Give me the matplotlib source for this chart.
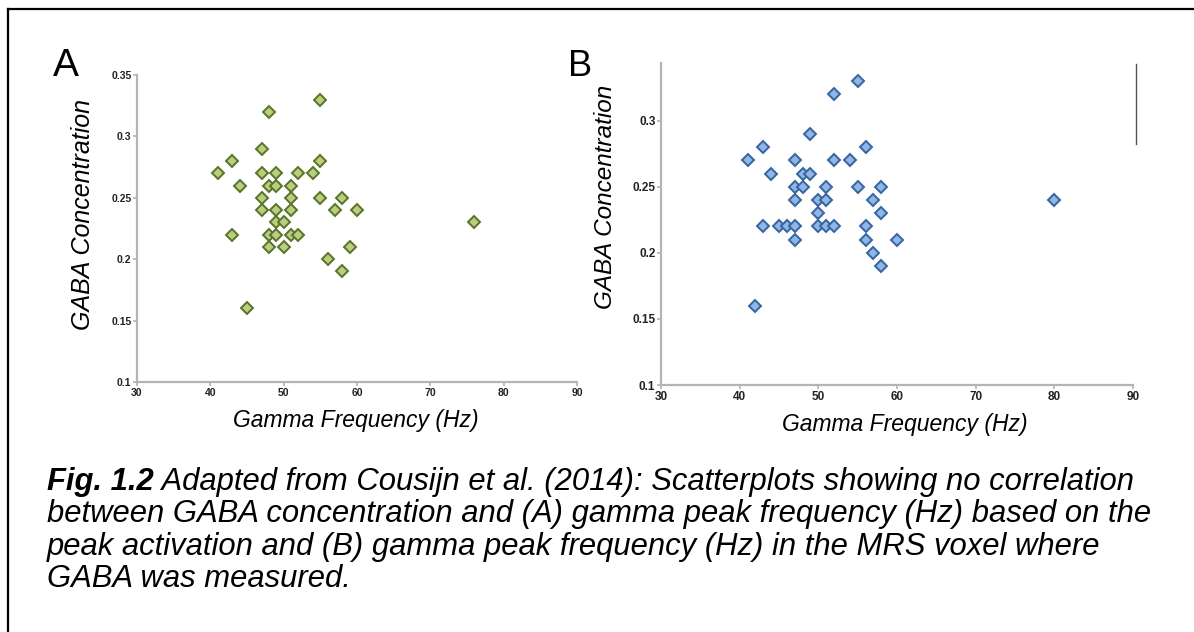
import matplotlib
matplotlib.use('Agg')
import matplotlib.pyplot as plt
from matplotlib.lines import Line2D

plt.rcParams['font.family'] = ['Liberation Sans', 'DejaVu Sans']

# Panel A: peak activation
gamma_a = [55, 48, 47, 43, 55, 41, 47, 49, 52, 54, 44, 48, 49, 51, 47, 51, 55, 58,
           47, 49, 51, 57, 60, 49, 50, 43, 48, 49, 51, 52, 48, 50, 59, 56, 58, 45, 76]
gaba_a = [0.33, 0.32, 0.29, 0.28, 0.28, 0.27, 0.27, 0.27, 0.27, 0.27, 0.26, 0.26, 0.26, 0.26,
          0.25, 0.25, 0.25, 0.25, 0.24, 0.24, 0.24, 0.24, 0.24, 0.23, 0.23, 0.22, 0.22, 0.22,
          0.22, 0.22, 0.21, 0.21, 0.21, 0.20, 0.19, 0.16, 0.23]

# Panel B: MRS voxel
gamma_b = [55, 52, 49, 43, 56, 41, 47, 52, 54, 44, 48, 49, 47, 48, 51, 55, 58, 47, 50,
           51, 57, 80, 50, 58, 43, 45, 46, 47, 50, 51, 52, 56, 47, 56, 60, 57, 58, 42]
gaba_b = [0.33, 0.32, 0.29, 0.28, 0.28, 0.27, 0.27, 0.27, 0.27, 0.26, 0.26, 0.26, 0.25,
          0.25, 0.25, 0.25, 0.25, 0.24, 0.24, 0.24, 0.24, 0.24, 0.23, 0.23, 0.22, 0.22,
          0.22, 0.22, 0.22, 0.22, 0.22, 0.22, 0.21, 0.21, 0.21, 0.20, 0.19, 0.16]

x_ticks = [30, 40, 50, 60, 70, 80, 90]
y_ticks_a = [0.1, 0.15, 0.2, 0.25, 0.3, 0.35]
y_labels_a = ['0.1', '0.15', '0.2', '0.25', '0.3', '0.35']
y_ticks_b = [0.1, 0.15, 0.2, 0.25, 0.3]
y_labels_b = ['0.1', '0.15', '0.2', '0.25', '0.3']

W, H = 1194, 632
fig = plt.figure(figsize=(W / 100, H / 100), dpi=100)
fig.patch.set_facecolor('white')


def fx(px):
    return px / W


def fy(py):
    return 1 - py / H


def estilo_ejes(ax, yticks, ylabels, ylim, tsize):
    for s in ['top', 'right']:
        ax.spines[s].set_visible(False)
    for s in ['left', 'bottom']:
        ax.spines[s].set_color('#b4b4b4')
        ax.spines[s].set_linewidth(1.6)
    ax.set_xlim(30, 90)
    ax.set_ylim(*ylim)
    ax.set_xticks(x_ticks)
    ax.set_xticklabels([str(t) for t in x_ticks])
    ax.set_yticks(yticks)
    ax.set_yticklabels(ylabels)
    ax.tick_params(direction='out', length=3, width=1.2, color='#b4b4b4',
                   labelsize=tsize, labelcolor='#222222', pad=1)
    for lab in ax.get_xticklabels() + ax.get_yticklabels():
        lab.set_fontweight('bold')


# Panel A
ax_a = fig.add_axes([fx(137), fy(382), fx(577 - 137), (382 - 75) / H])
ax_a.plot(gamma_a, gaba_a, 'D', ms=6, mfc='#b9cf80', mec='#5a722a', mew=1.4,
          linestyle='none', clip_on=False)
estilo_ejes(ax_a, y_ticks_a, y_labels_a, (0.1, 0.35), 7.5)

# Panel B
ax_b = fig.add_axes([fx(661), fy(385), fx(1133 - 661), (385 - 63) / H])
ax_b.plot(gamma_b, gaba_b, 'D', ms=6, mfc='#8fb6e4', mec='#35649f', mew=1.4,
          linestyle='none', clip_on=False)
estilo_ejes(ax_b, y_ticks_b, y_labels_b, (0.1, 0.3437), 8.5)

# Etiquetas de ejes
fig.text(fx(83), fy(215), 'GABA Concentration', rotation=90, ha='center', va='center',
         fontsize=18, style='italic')
fig.text(fx(605), fy(197), 'GABA Concentration', rotation=90, ha='center', va='center',
         fontsize=17.5, style='italic')
fig.text(fx(356), fy(421), 'Gamma Frequency (Hz)', ha='center', va='center',
         fontsize=16.5, style='italic')
fig.text(fx(905), fy(424), 'Gamma Frequency (Hz)', ha='center', va='center',
         fontsize=16.5, style='italic')

# Letras de panel
fig.text(fx(66), fy(66), 'A', ha='center', va='center', fontsize=28)
fig.text(fx(580), fy(66), 'B', ha='center', va='center', fontsize=26)

# Marco y linea suelta
fig.add_artist(Line2D([fx(8), fx(8)], [fy(9), 0], color='black', lw=1.6))
fig.add_artist(Line2D([fx(8), 1], [fy(9), fy(9)], color='black', lw=1.6))
fig.add_artist(Line2D([fx(1136), fx(1136)], [fy(64), fy(144)], color='#555555', lw=1.0))

# Leyenda de la figura
cap_size = 22.3
lineas = [
    'Adapted from Cousijn et al. (2014): Scatterplots showing no correlation',
    'between GABA concentration and (A) gamma peak frequency (Hz) based on the',
    'peak activation and (B) gamma peak frequency (Hz) in the MRS voxel where',
    'GABA was measured.',
]
bases = [490, 522, 555, 587]
t_fig = fig.text(fx(47), fy(bases[0]), 'Fig. 1.2', fontsize=cap_size, style='italic',
                 fontweight='bold', va='baseline', ha='left')
renderer = fig.canvas.get_renderer()
bb = t_fig.get_window_extent(renderer=renderer)
x_sig = bb.x1 / fig.dpi / fig.get_figwidth()
fig.text(x_sig, fy(bases[0]), ' ' + lineas[0], fontsize=cap_size, style='italic',
         va='baseline', ha='left')
for linea, b in zip(lineas[1:], bases[1:]):
    fig.text(fx(47), fy(b), linea, fontsize=cap_size, style='italic',
             va='baseline', ha='left')

fig.savefig('out.png', dpi=100, facecolor='white')
plt.close(fig)
